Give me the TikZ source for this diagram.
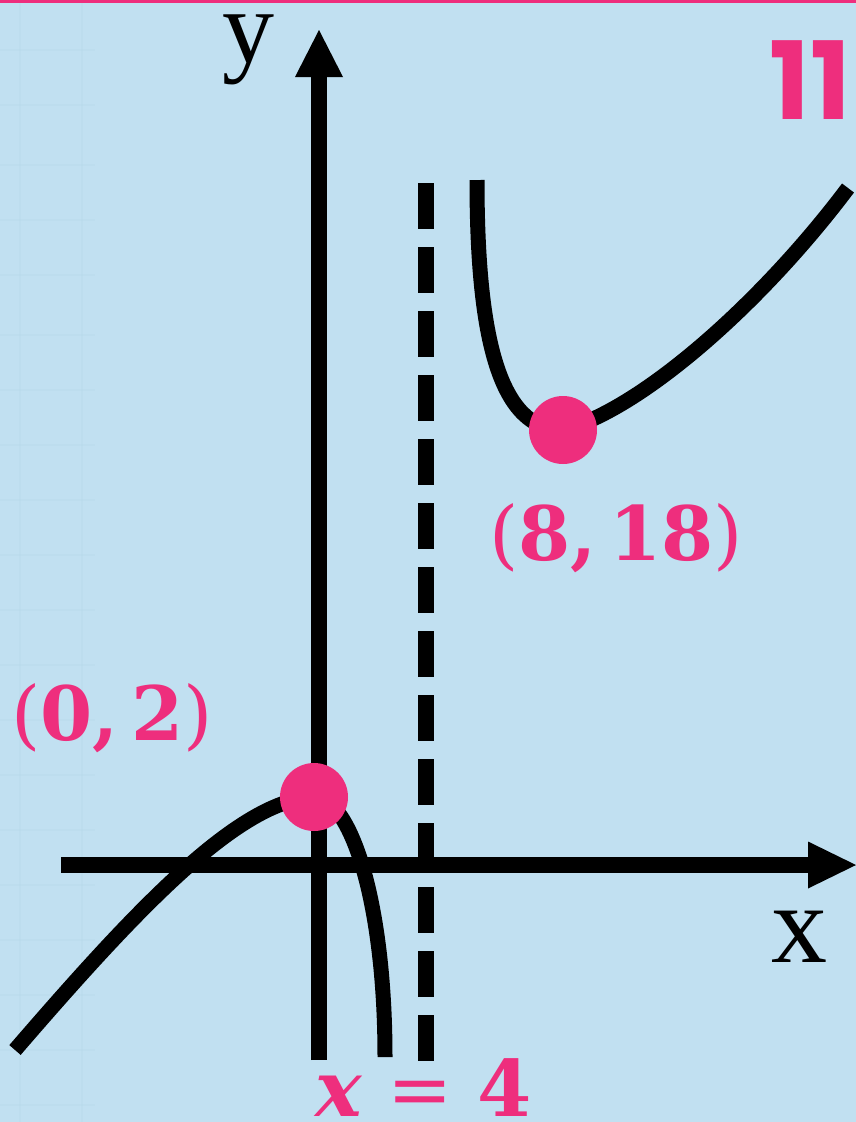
\documentclass[tikz,border=0pt]{standalone}
\usepackage{fontspec}
\setmainfont{Liberation Serif}
\newfontfamily\lblfont{DejaVu Serif}
\newfontfamily\popfont{Poppins}
\definecolor{bg}{HTML}{C1E0F1}
\definecolor{pk}{HTML}{EE2E7D}
\definecolor{gridc}{HTML}{B5D6E8}
\begin{document}
\begin{tikzpicture}[x=1pt,y=-1pt,
  curveline/.style={line width=15pt, line cap=butt, black},
  axisline/.style={line width=16pt, line cap=butt, black},
  asymline/.style={line width=16pt, line cap=butt, black, dash pattern=on 46pt off 18pt},
  dotpt/.style={circle, fill=pk, minimum size=68pt, inner sep=0pt},
  pinklabel/.style={text=pk, inner sep=0pt, anchor=base}]
\useasboundingbox (0,0) rectangle (856,1122);
\fill[bg] (0,0) rectangle (856,1122);
% faint background grid
\foreach \gx in {20,82} \draw[gridc, line width=2pt, opacity=0.25] (\gx,0) -- (\gx,1122);
\foreach \gy in {50,105,165,220,275,335,390,445,500,555,610,665,720,775,830,885,940,995,1050,1105}
  \draw[gridc, line width=2pt, opacity=0.25] (0,\gy) -- (95,\gy);
\fill[pk] (0,0) rectangle (856,2.5);

% coordinates
\coordinate (xl) at (61,865);
\coordinate (xb) at (808,865);
\coordinate (xt) at (856,865);
\coordinate (yb) at (319,1060);
\coordinate (ybase) at (319,77);
\coordinate (yt) at (319,30);
\coordinate (at) at (426,183);
\coordinate (ab) at (426,1061);

% axes
\draw[axisline] (xl) -- (xb);
\fill[black] (xt) -- (808,841.5) -- (808,888.5) -- cycle;
\draw[axisline] (yb) -- (ybase);
\fill[black] (yt) -- (295,77) -- (343,77) -- cycle;
% asymptote
\draw[asymline] (at) -- (ab);

% curve points
\coordinate (l0) at (15,1050);
\coordinate (mx) at (314,797);
\coordinate (l1) at (385,1057);
\coordinate (r0) at (477,180);
\coordinate (mn) at (563,430);
\coordinate (r1) at (848,188);

\draw[curveline] (l0) .. controls (140,905) and (240,800) .. (mx)
                      .. controls (350,797) and (385,900) .. (l1);
\draw[curveline] (r0) .. controls (477,340) and (500,430) .. (mn)
                      .. controls (640,410) and (760,305) .. (r1);

\node[dotpt] (dmax) at (mx) {};
\node[dotpt] (dmin) at (mn) {};

% labels
\node[inner sep=0pt, anchor=base, font=\fontsize{104}{104}\selectfont] (ylab) at (248,62) {y};
\node[inner sep=0pt, anchor=base, font=\fontsize{112}{112}\selectfont] (xlab) at (799,962) {x};
\node[pinklabel, font=\lblfont\fontsize{75}{75}\selectfont] (lmax) at (112,740) {(\textbf{0,\,2})};
\node[pinklabel, font=\lblfont\fontsize{75}{75}\selectfont] (lmin) at (616,560) {(\textbf{8,\,18})};
\node[pinklabel, font=\lblfont\fontsize{78}{78}\selectfont] (lasy) at (424,1116) {\textbf{\textit{x}} = \textbf{4}};
\node[pinklabel, font=\popfont\bfseries\fontsize{108}{108}\selectfont] (num) at (810,119) {11};
\end{tikzpicture}
\end{document}
